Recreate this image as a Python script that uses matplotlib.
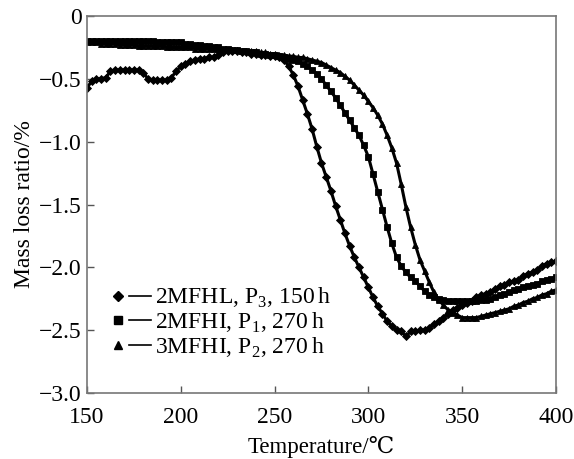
import matplotlib
matplotlib.use("Agg")
import matplotlib.pyplot as plt
from matplotlib.lines import Line2D
from matplotlib.legend_handler import HandlerTuple
from matplotlib.ticker import FuncFormatter

plt.rcParams['font.family'] = ['Liberation Serif', 'DejaVu Serif']
plt.rcParams['mathtext.fontset'] = 'custom'
plt.rcParams['mathtext.rm'] = 'Liberation Serif'

temps = [150, 152.5, 155, 157.5, 160, 162.5, 165, 167.5, 170, 172.5,
         175, 177.5, 180, 182.5, 185, 187.5, 190, 192.5, 195, 197.5,
         200, 202.5, 205, 207.5, 210, 212.5, 215, 217.5, 220, 222.5,
         225, 227.5, 230, 232.5, 235, 237.5, 240, 242.5, 245, 247.5,
         250, 252.5, 255, 257.5, 260, 262.5, 265, 267.5, 270, 272.5,
         275, 277.5, 280, 282.5, 285, 287.5, 290, 292.5, 295, 297.5,
         300, 302.5, 305, 307.5, 310, 312.5, 315, 317.5, 320, 322.5,
         325, 327.5, 330, 332.5, 335, 337.5, 340, 342.5, 345, 347.5,
         350, 352.5, 355, 357.5, 360, 362.5, 365, 367.5, 370, 372.5,
         375, 377.5, 380, 382.5, 385, 387.5, 390, 392.5, 395, 397.5,
         400]

# 2MFHL, P3, 150 h
mfhl_p3 = [-0.57, -0.52, -0.50, -0.50, -0.49, -0.44, -0.43, -0.43, -0.43, -0.43,
           -0.43, -0.43, -0.45, -0.50, -0.51, -0.51, -0.51, -0.51, -0.49, -0.44,
           -0.40, -0.38, -0.36, -0.35, -0.34, -0.34, -0.33, -0.33, -0.31, -0.29,
           -0.28, -0.28, -0.28, -0.29, -0.29, -0.30, -0.30, -0.31, -0.31, -0.32,
           -0.32, -0.33, -0.35, -0.40, -0.47, -0.56, -0.67, -0.78, -0.90, -1.04,
           -1.17, -1.28, -1.39, -1.51, -1.62, -1.73, -1.83, -1.92, -2.00, -2.08,
           -2.16, -2.24, -2.31, -2.37, -2.43, -2.47, -2.50, -2.51, -2.55, -2.51,
           -2.51, -2.50, -2.50, -2.48, -2.45, -2.43, -2.40, -2.37, -2.34, -2.32,
           -2.30, -2.28, -2.27, -2.24, -2.22, -2.21, -2.20, -2.17, -2.15, -2.14,
           -2.12, -2.11, -2.10, -2.07, -2.05, -2.04, -2.02, -1.99, -1.97, -1.96,
           -1.95]

# 2MFHI, P1, 270 h
mfhi_p1 = [-0.20, -0.20, -0.20, -0.20, -0.20, -0.20, -0.20, -0.20, -0.20, -0.20,
           -0.20, -0.20, -0.20, -0.20, -0.20, -0.21, -0.21, -0.21, -0.21, -0.21,
           -0.21, -0.22, -0.22, -0.23, -0.23, -0.24, -0.24, -0.25, -0.25, -0.26,
           -0.26, -0.27, -0.27, -0.28, -0.28, -0.29, -0.29, -0.30, -0.30, -0.31,
           -0.31, -0.32, -0.33, -0.34, -0.35, -0.36, -0.38, -0.40, -0.43, -0.46,
           -0.50, -0.55, -0.60, -0.65, -0.71, -0.77, -0.83, -0.89, -0.95, -1.03,
           -1.12, -1.26, -1.40, -1.54, -1.68, -1.81, -1.92, -1.99, -2.04, -2.08,
           -2.11, -2.15, -2.19, -2.22, -2.24, -2.25, -2.26, -2.27, -2.27, -2.27,
           -2.27, -2.27, -2.27, -2.27, -2.26, -2.26, -2.25, -2.24, -2.22, -2.21,
           -2.20, -2.18, -2.17, -2.16, -2.15, -2.14, -2.13, -2.11, -2.10, -2.09,
           -2.08]

# 3MFHI, P2, 270 h
mfhi3_p2 = [-0.21, -0.21, -0.21, -0.22, -0.22, -0.22, -0.22, -0.23, -0.23, -0.23,
            -0.23, -0.24, -0.24, -0.24, -0.24, -0.24, -0.24, -0.25, -0.25, -0.25,
            -0.25, -0.25, -0.25, -0.26, -0.26, -0.26, -0.26, -0.26, -0.26, -0.27,
            -0.27, -0.27, -0.27, -0.28, -0.28, -0.28, -0.28, -0.29, -0.29, -0.30,
            -0.30, -0.31, -0.31, -0.32, -0.32, -0.33, -0.33, -0.34, -0.35, -0.36,
            -0.37, -0.39, -0.41, -0.43, -0.45, -0.48, -0.51, -0.55, -0.59, -0.63,
            -0.68, -0.73, -0.79, -0.86, -0.95, -1.05, -1.17, -1.34, -1.52, -1.68,
            -1.82, -1.94, -2.03, -2.12, -2.20, -2.26, -2.30, -2.34, -2.36, -2.38,
            -2.40, -2.40, -2.40, -2.40, -2.39, -2.38, -2.37, -2.36, -2.35, -2.34,
            -2.33, -2.31, -2.30, -2.28, -2.27, -2.25, -2.24, -2.22, -2.21, -2.19,
            -2.18]

labels = ['2MFHL, P$_3$, 150$\\,$h', '2MFHI, P$_1$, 270$\\,$h', '3MFHI, P$_2$, 270$\\,$h']
markers = ['D', 's', '^']
msizes = [4.3, 5.0, 5.0]
series = [mfhl_p3, mfhi_p1, mfhi3_p2]

fig = plt.figure(figsize=(5.74, 4.59), dpi=100)
ax = fig.add_axes([0.1516, 0.1438, 0.817, 0.8213])

for vals, m, ms in zip(series, markers, msizes):
    ax.plot(temps, vals, color='black', linewidth=2.2, marker=m, markersize=ms,
            markeredgewidth=0.6)

ax.set_xlim(150, 400)
ax.set_ylim(-3.0, 0)
ax.set_xticks([150, 200, 250, 300, 350, 400])
ax.set_yticks([0, -0.5, -1.0, -1.5, -2.0, -2.5, -3.0])
ax.yaxis.set_major_formatter(FuncFormatter(
    lambda v, p: '0' if v == 0 else ('%.1f' % v).replace('-', '\u2212')))
ax.tick_params(direction='in', length=5, width=1, color='#555555',
               labelsize=17, pad=4)
ax.tick_params(axis='x', pad=10)
for s in ax.spines.values():
    s.set_color('#777777')
    s.set_linewidth(1.2)

ax.set_xlabel('Temperature/\u2103', fontsize=16.5, labelpad=6)
ax.set_ylabel('Mass loss ratio/%', fontsize=17, labelpad=3)

handles = []
for m, ms in zip(markers, msizes):
    mk = Line2D([], [], color='black', linestyle='none', marker=m, markersize=ms + 0.3)
    ln = Line2D([], [], color='black', linewidth=1.2)
    handles.append((mk, ln))
ax.legend(handles, labels, handler_map={tuple: HandlerTuple(ndivide=None, pad=0)},
          loc='lower left', bbox_to_anchor=(0.006, 0.045), frameon=False,
          fontsize=17, handlelength=1.9, handletextpad=0.15, labelspacing=0.02,
          borderpad=0.2)

fig.savefig('out.png', dpi=100)
